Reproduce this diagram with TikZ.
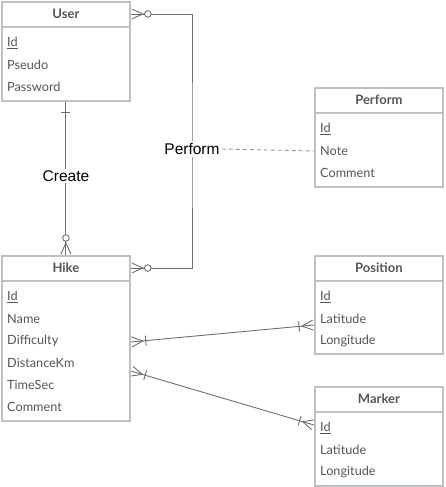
\documentclass[tikz,border=0pt]{standalone}
\usepackage{fontspec}
\setmainfont{Lato}
\newfontfamily\labelfont{Liberation Sans}
\usetikzlibrary{decorations.markings,backgrounds}
\definecolor{boxline}{RGB}{190,193,196}
\definecolor{conn}{RGB}{110,110,110}
\definecolor{dashc}{RGB}{150,150,150}
\definecolor{txt}{RGB}{85,85,85}
\newcommand\entbox[5]{%
  \node[ent, minimum height=#3pt, anchor=north west] (#1) at #2 {};
  \draw[sepline] ([yshift=-26pt]#1.north west) -- ([yshift=-26pt]#1.north east);
  \node[hdr] (#1-h) at ([yshift=-13pt]#1.north) {#4};
  \foreach \t [count=\i] in {#5} {
    \node[rowtxt] (#1-\i) at ([xshift=6pt, yshift={-20pt-22pt*\i}]#1.north west) {\t};
  }%
}
\newcommand\mkmanyopt{\draw[conn] (1,5)--(12,0)--(1,-5); \draw[conn,fill=white] (17,0) circle[radius=3.3];}
\newcommand\mkmanyone{\draw[conn] (1,5)--(12,0)--(1,-5); \draw[conn] (15,5)--(15,-5);}
\newcommand\mkone{\draw[conn] (11,4.5)--(11,-4.5);}
\begin{document}
\begin{tikzpicture}[x=1pt,y=-1pt,
  ent/.style={draw=boxline, line width=1.8pt, minimum width=128pt, inner sep=0pt},
  sepline/.style={draw=boxline, line width=1.8pt},
  hdr/.style={font=\fontsize{13}{15}\selectfont\bfseries, text=txt},
  rowtxt/.style={anchor=west, font=\fontsize{12.7}{15}\selectfont, text=txt, inner sep=0pt},
  conn/.style={draw=conn, line width=0.9pt},
  lbl/.style={font=\labelfont\fontsize{15.5}{18}\selectfont, fill=white, inner sep=2pt, text=black},
  ends/.style 2 args={postaction={decorate, decoration={markings,
      mark=at position 0 with {#1},
      mark=at position 1 with {\begin{scope}[xscale=-1]#2\end{scope}}}}}
]
\useasboundingbox (0,0) rectangle (446,487);
\entbox{user}{(1,1)}{99}{User}{\underline{Id},Pseudo,Password}
\entbox{perf}{(314,87)}{99}{Perform}{\underline{Id},Note,Comment}
\entbox{hike}{(1,255)}{165}{Hike}{\underline{Id},Name,Difficulty,DistanceKm,TimeSec,Comment}
\entbox{pos}{(314,255)}{98}{Position}{\underline{Id},Latitude,Longitude}
\entbox{mark}{(314,386)}{99}{Marker}{\underline{Id},Latitude,Longitude}
\node[lbl] (create) at (66,176) {Create};
\node[lbl] (perflbl) at (192,149) {Perform};
\begin{pgfonlayer}{background}
\draw[conn, ends={\mkone}{\mkmanyopt}] (user.south) -- (hike.north);
\draw[conn, ends={\mkmanyopt}{\mkmanyopt}] (user.east |- user-h) -| (perflbl.center) |- (hike.east |- hike-h);
\draw[conn, ends={\mkmanyone}{\mkmanyone}] ([yshift=-1pt]hike.east |- hike-3) -- ([yshift=-6pt]pos.west |- pos-2);
\draw[conn, ends={\mkmanyone}{\mkmanyone}] ([yshift=-8pt]hike.east |- hike-4) -- ([yshift=3pt]mark.west |- mark-1);
\end{pgfonlayer}
\draw[dashc, line width=0.9pt, dash pattern=on 4pt off 3pt] (perflbl.east) -- (perf.west |- perf-2);
\end{tikzpicture}
\end{document}
